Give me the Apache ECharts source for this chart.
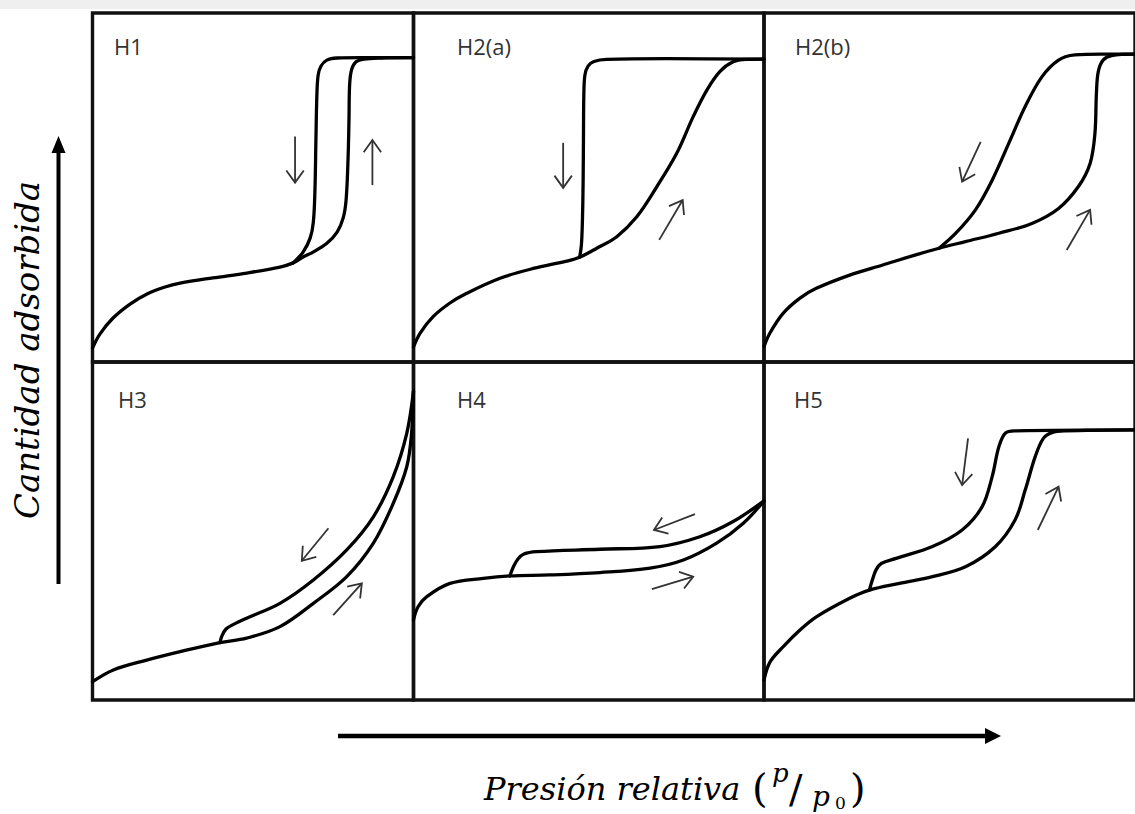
<!DOCTYPE html>
<html>
<head>
<meta charset="utf-8">
<script src="https://cdn.jsdelivr.net/npm/echarts@6/dist/echarts.min.js"></script>
<style>
  html, body { margin: 0; padding: 0; background: #fff; }
  #chart { width: 1135px; height: 814px; }
</style>
</head>
<body>
<div id="chart"></div>
<script>
// IUPAC hysteresis loop types, one panel each
const panelNames = ['H1', 'H2(a)', 'H2(b)', 'H3', 'H4', 'H5'];

// Each branch: [relative pressure p/p0, normalized amount adsorbed]
// Adsorption branches include the reversible low-pressure part.
const adsH1 = [[0.000,0.040],[0.023,0.080],[0.064,0.126],[0.117,0.166],[0.170,0.195],[0.226,0.215],[0.273,0.226],[0.375,0.241],[0.481,0.255],[0.584,0.272],[0.625,0.284],[0.656,0.301],[0.687,0.315],[0.731,0.341],[0.762,0.372],[0.781,0.413],[0.790,0.464],[0.796,0.579],[0.799,0.693],[0.801,0.794],[0.807,0.837],[0.821,0.860],[0.846,0.868],[0.896,0.871],[1.000,0.872]];
const desH1 = [[0.625,0.284],[0.656,0.315],[0.678,0.355],[0.688,0.401],[0.693,0.493],[0.696,0.636],[0.699,0.765],[0.703,0.822],[0.712,0.848],[0.730,0.865],[0.762,0.871],[0.833,0.872],[1.000,0.872]];

const adsH2a = [[0.000,0.043],[0.019,0.083],[0.056,0.130],[0.104,0.169],[0.152,0.197],[0.247,0.240],[0.342,0.268],[0.437,0.289],[0.474,0.300],[0.523,0.326],[0.580,0.359],[0.637,0.416],[0.694,0.502],[0.751,0.598],[0.798,0.703],[0.837,0.779],[0.874,0.832],[0.912,0.860],[0.951,0.867],[1.000,0.868]];
const desH2a = [[0.474,0.300],[0.479,0.335],[0.482,0.407],[0.484,0.521],[0.485,0.656],[0.486,0.765],[0.489,0.822],[0.498,0.848],[0.515,0.861],[0.551,0.867],[0.722,0.869],[1.000,0.868]];

const adsH2b = [[0.000,0.044],[0.016,0.083],[0.052,0.140],[0.097,0.183],[0.141,0.211],[0.231,0.249],[0.320,0.278],[0.409,0.307],[0.472,0.326],[0.543,0.345],[0.633,0.369],[0.722,0.397],[0.794,0.440],[0.847,0.502],[0.879,0.569],[0.892,0.655],[0.896,0.770],[0.901,0.832],[0.914,0.865],[0.937,0.878],[1.000,0.882]];
const desH2b = [[0.472,0.326],[0.517,0.369],[0.570,0.436],[0.615,0.521],[0.660,0.627],[0.704,0.732],[0.749,0.817],[0.794,0.865],[0.838,0.880],[0.910,0.882],[1.000,0.882]];

const adsH3 = [[0.000,0.054],[0.065,0.089],[0.169,0.118],[0.273,0.143],[0.397,0.170],[0.480,0.183],[0.584,0.217],[0.688,0.286],[0.792,0.365],[0.875,0.464],[0.937,0.582],[0.979,0.690],[0.994,0.789],[1.000,0.914]];
const desH3 = [[0.397,0.170],[0.403,0.189],[0.416,0.210],[0.438,0.223],[0.480,0.242],[0.584,0.286],[0.688,0.355],[0.792,0.444],[0.875,0.542],[0.937,0.661],[0.979,0.789],[1.000,0.914]];

const adsH4 = [[0.000,0.237],[0.013,0.276],[0.038,0.306],[0.104,0.345],[0.199,0.360],[0.275,0.367],[0.389,0.370],[0.532,0.377],[0.675,0.390],[0.770,0.414],[0.865,0.464],[0.941,0.523],[1.000,0.589]];
const desH4 = [[0.275,0.367],[0.285,0.394],[0.298,0.417],[0.315,0.432],[0.351,0.439],[0.532,0.446],[0.703,0.454],[0.817,0.483],[0.912,0.528],[1.000,0.589]];

const adsH5 = [[0.000,0.059],[0.016,0.112],[0.052,0.158],[0.097,0.207],[0.141,0.246],[0.231,0.301],[0.284,0.325],[0.365,0.345],[0.454,0.365],[0.543,0.394],[0.624,0.454],[0.677,0.533],[0.704,0.621],[0.731,0.720],[0.753,0.774],[0.776,0.791],[0.812,0.796],[1.000,0.799]];
const desH5 = [[0.284,0.325],[0.292,0.355],[0.302,0.385],[0.316,0.404],[0.356,0.419],[0.454,0.454],[0.534,0.503],[0.588,0.572],[0.615,0.661],[0.633,0.749],[0.651,0.790],[0.677,0.796],[1.000,0.799]];

// Direction arrows: [x start, y start, x end, y end] in each panel's data units
const arrH1  = [[0.631,0.646,0.631,0.514],[0.872,0.507,0.872,0.636]];
const arrH2a = [[0.427,0.628,0.427,0.499],[0.701,0.350,0.768,0.464]];
const arrH2b = [[0.584,0.631,0.534,0.517],[0.816,0.321,0.879,0.436]];
const arrH3  = [[0.735,0.508,0.652,0.412],[0.750,0.251,0.839,0.345]];
const arrH4  = [[0.803,0.550,0.686,0.503],[0.680,0.328,0.798,0.365]];
const arrH5  = [[0.550,0.774,0.534,0.636],[0.738,0.503,0.794,0.631]];

const branches = [
  [adsH1, desH1], [adsH2a, desH2a], [adsH2b, desH2b],
  [adsH3, desH3], [adsH4, desH4], [adsH5, desH5]
];
const arrows = [arrH1, arrH2a, arrH2b, arrH3, arrH4, arrH5];

// Panel boxes (pixels) and label anchors; the right column runs past the page edge
const boxes = [
  { left: 92.5,  top: 13,  width: 321,   height: 349 },
  { left: 413.5, top: 13,  width: 350.5, height: 349 },
  { left: 764,   top: 13,  width: 375,   height: 349 },
  { left: 92.5,  top: 362, width: 321,   height: 338 },
  { left: 413.5, top: 362, width: 350.5, height: 338 },
  { left: 764,   top: 362, width: 375,   height: 338 }
];
const labelAt = [[114, 35], [457, 35], [795, 35], [118, 388], [457, 388], [794, 388]];

function renderArrow(params, api) {
  const p1 = api.coord([api.value(0), api.value(1)]);
  const p2 = api.coord([api.value(2), api.value(3)]);
  const ang = Math.atan2(p2[1] - p1[1], p2[0] - p1[0]);
  const len = 15, spread = 0.62;
  const h1 = [p2[0] - len * Math.cos(ang - spread), p2[1] - len * Math.sin(ang - spread)];
  const h2 = [p2[0] - len * Math.cos(ang + spread), p2[1] - len * Math.sin(ang + spread)];
  const st = { stroke: '#333', lineWidth: 1.8, fill: 'none' };
  return {
    type: 'group',
    children: [
      { type: 'line', shape: { x1: p1[0], y1: p1[1], x2: p2[0], y2: p2[1] }, style: st },
      { type: 'polyline', shape: { points: [h1, p2, h2] }, style: st }
    ]
  };
}

const grid = boxes.map(b => Object.assign({}, b, {
  show: true, borderColor: '#111', borderWidth: 3.4, backgroundColor: 'transparent'
}));
const xAxis = boxes.map((b, i) => ({ type: 'value', gridIndex: i, min: 0, max: 1, show: false }));
const yAxis = boxes.map((b, i) => ({ type: 'value', gridIndex: i, min: 0, max: 1, show: false }));

const series = [];
branches.forEach((pair, i) => {
  pair.forEach(data => {
    series.push({
      type: 'line', xAxisIndex: i, yAxisIndex: i, data: data,
      smooth: 0.35, symbol: 'none', silent: true,
      lineStyle: { color: '#000', width: 3.3, cap: 'round', join: 'round' }
    });
  });
  series.push({
    type: 'custom', xAxisIndex: i, yAxisIndex: i, data: arrows[i],
    encode: { x: [0, 2], y: [1, 3] }, renderItem: renderArrow, silent: true, clip: false
  });
});

const title = panelNames.map((t, i) => ({
  text: t, left: labelAt[i][0], top: labelAt[i][1], padding: 0,
  textStyle: { fontFamily: 'Open Sans', fontSize: 22, fontWeight: 'normal', color: '#333' }
}));

const serif = '"DejaVu Serif", serif';
const graphic = [
  { type: 'rect', shape: { x: 0, y: 0, width: 1135, height: 9 }, style: { fill: '#efefef' }, z: -10 },
  // y-direction arrow
  { type: 'line', shape: { x1: 58.5, y1: 584, x2: 58.5, y2: 150 }, style: { stroke: '#000', lineWidth: 4 } },
  { type: 'polygon', shape: { points: [[58.5, 136], [51.5, 153], [65.5, 153]] }, style: { fill: '#000' } },
  // x-direction arrow
  { type: 'line', shape: { x1: 338, y1: 736, x2: 988, y2: 736 }, style: { stroke: '#000', lineWidth: 4.5 } },
  { type: 'polygon', shape: { points: [[1001, 736], [985, 728], [985, 744]] }, style: { fill: '#000' } },
  // axis titles
  { type: 'text', x: 27, y: 350, rotation: Math.PI / 2,
    style: { text: 'Cantidad adsorbida', fontFamily: serif, fontStyle: 'italic', fontSize: 34, fill: '#000', align: 'center', verticalAlign: 'middle' } },
  { type: 'text', x: 484, y: 789,
    style: { text: 'Presión relativa', fontFamily: serif, fontStyle: 'italic', fontSize: 32, fill: '#000', align: 'left', verticalAlign: 'middle' } },
  { type: 'text', x: 752, y: 788,
    style: { text: '(', fontFamily: serif, fontSize: 40, fill: '#000', align: 'left', verticalAlign: 'middle' } },
  { type: 'text', x: 772, y: 773,
    style: { text: 'p', fontFamily: serif, fontStyle: 'italic', fontSize: 26, fill: '#000', align: 'left', verticalAlign: 'middle' } },
  { type: 'text', x: 789, y: 789,
    style: { text: '/', fontFamily: serif, fontSize: 40, fill: '#000', align: 'left', verticalAlign: 'middle' } },
  { type: 'text', x: 812, y: 796,
    style: { text: 'p', fontFamily: serif, fontStyle: 'italic', fontSize: 28, fill: '#000', align: 'left', verticalAlign: 'middle' } },
  { type: 'text', x: 835, y: 803,
    style: { text: '0', fontFamily: serif, fontSize: 17, fill: '#000', align: 'left', verticalAlign: 'middle' } },
  { type: 'text', x: 850, y: 788,
    style: { text: ')', fontFamily: serif, fontSize: 40, fill: '#000', align: 'left', verticalAlign: 'middle' } }
];

const chart = echarts.init(document.getElementById('chart'), null, { renderer: 'svg' });
chart.setOption({
  animation: false,
  backgroundColor: '#fff',
  title: title,
  grid: grid,
  xAxis: xAxis,
  yAxis: yAxis,
  series: series,
  graphic: graphic
});
</script>
</body>
</html>
